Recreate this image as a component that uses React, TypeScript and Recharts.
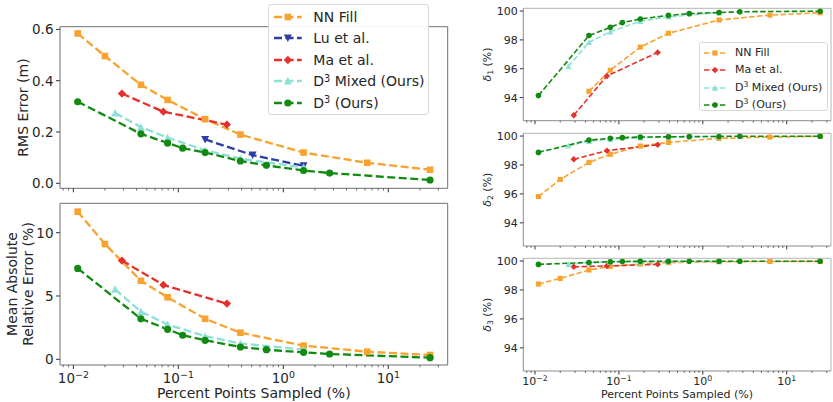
import React from 'react';
import { LineChart, Line, XAxis, YAxis, Legend, ReferenceLine } from 'recharts';

const FONT = '"DejaVu Sans", Verdana, sans-serif';
const TXT = '#262626';

const C_NN = '#f8a230';
const C_LU = '#2d3ea6';
const C_MA = '#e4312c';
const C_MIX = '#8edfd7';
const C_D3 = '#128a12';

// x values: percent points sampled
const X_NN = [0.011, 0.02, 0.044, 0.079, 0.18, 0.39, 1.56, 6.3, 25];
const X_NN_D1 = [0.044, 0.079, 0.18, 0.39, 1.56, 6.3, 25];
const X_LU = [0.18, 0.51, 1.56];
const X_MA = [0.029, 0.072, 0.29];
const X_MIX = [0.025, 0.044, 0.079, 0.18, 0.39, 1.56];
const X_D3 = [0.011, 0.044, 0.079, 0.11, 0.18, 0.39, 0.69, 1.56, 2.76, 25];

// RMS error (m)
const RMS_NN = [0.584, 0.496, 0.384, 0.325, 0.25, 0.19, 0.12, 0.08, 0.053];
const RMS_LU = [0.171, 0.11, 0.068];
const RMS_MA = [0.35, 0.279, 0.229];
const RMS_MIX = [0.274, 0.219, 0.178, 0.129, 0.096, 0.062];
const RMS_D3 = [0.318, 0.193, 0.157, 0.137, 0.12, 0.087, 0.07, 0.05, 0.04, 0.013];

// Mean absolute relative error (%)
const MARE_NN = [11.66, 9.1, 6.2, 4.9, 3.2, 2.1, 1.08, 0.6, 0.34];
const MARE_MA = [7.8, 5.87, 4.4];
const MARE_MIX = [5.53, 3.76, 2.75, 1.83, 1.25, 0.77];
const MARE_D3 = [7.18, 3.2, 2.37, 1.9, 1.5, 0.97, 0.76, 0.55, 0.42, 0.13];

// delta 1 (%)
const D1_NN = [94.44, 95.9, 97.5, 98.46, 99.38, 99.72, 99.88];
const D1_MA = [92.78, 95.5, 97.13];
const D1_MIX = [96.16, 97.84, 98.57, 99.29, 99.6, 99.89];
const D1_D3 = [94.14, 98.3, 98.87, 99.2, 99.45, 99.7, 99.82, 99.9, 99.95, 99.99];

// delta 2 (%)
const D2_NN = [95.82, 97.0, 98.18, 98.74, 99.31, 99.56, 99.84, 99.93, 99.98];
const D2_MA = [98.39, 98.99, 99.4];
const D2_MIX = [99.33, 99.65, 99.77, 99.88, 99.93, 99.97];
const D2_D3 = [98.87, 99.72, 99.84, 99.89, 99.93, 99.95, 99.96, 99.97, 99.99, 99.99];

// delta 3 (%)
const D3_NN = [98.41, 98.8, 99.38, 99.63, 99.8, 99.89, 99.95, 99.97, 99.98];
const D3_MA = [99.6, 99.66, 99.77];
const D3_MIX = [99.78, 99.9, 99.94, 99.96, 99.97, 99.98];
const D3_D3 = [99.77, 99.9, 99.95, 99.97, 99.98, 99.98, 99.99, 99.99, 99.99, 99.99];

// tick values
const LOG_TICKS = [0.008, 0.009, 0.01, 0.02, 0.03, 0.04, 0.05, 0.06, 0.07, 0.08, 0.09, 0.1, 0.2, 0.3, 0.4, 0.5, 0.6, 0.7, 0.8, 0.9, 1, 2, 3, 4, 5, 6, 7, 8, 9, 10, 20, 30];
const MAJOR_TICKS = [0.01, 0.1, 1, 10];
const RMS_TICKS = [0, 0.2, 0.4, 0.6];
const MARE_TICKS = [0, 5, 10];
const DELTA_TICKS = [94, 96, 98, 100];

const zip = (xs: number[], ys: number[]) => xs.map((x, i) => ({ x, y: ys[i] }));

type Sty = {
  fs: number; tMaj: number; tMin: number; lw: number; dash: string; ms: number;
  xLabBase: number; yLabOff: number;
};

const LEFT_STY: Sty = { fs: 13.5, tMaj: 4, tMin: 2.3, lw: 2.3, dash: '8 3.5', ms: 3.6, xLabBase: 18.3, yLabOff: 5.5 };
const RIGHT_STY: Sty = { fs: 11, tMaj: 3.5, tMin: 2, lw: 1.6, dash: '5.5 2.4', ms: 2.8, xLabBase: 14.4, yLabOff: 5 };

function Mark({ cx, cy, shape, color, s }: any) {
  if (cx == null || cy == null || isNaN(cx) || isNaN(cy)) return null;
  if (shape === 'circle') return <circle cx={cx} cy={cy} r={s} fill={color} />;
  if (shape === 'square') {
    const h = s * 0.92;
    return <rect x={cx - h} y={cy - h} width={2 * h} height={2 * h} fill={color} />;
  }
  if (shape === 'diamond') {
    const d = s * 1.15;
    return <polygon points={`${cx},${cy - d} ${cx + d},${cy} ${cx},${cy + d} ${cx - d},${cy}`} fill={color} />;
  }
  if (shape === 'up') {
    const d = s * 1.1;
    return <polygon points={`${cx},${cy - d} ${cx + d},${cy + d * 0.9} ${cx - d},${cy + d * 0.9}`} fill={color} />;
  }
  if (shape === 'down') {
    const d = s * 1.1;
    return <polygon points={`${cx},${cy + d} ${cx + d},${cy - d * 0.9} ${cx - d},${cy - d * 0.9}`} fill={color} />;
  }
  return null;
}

function XTick(p: any) {
  const { x, y, payload, sty, show } = p;
  const v = payload.value;
  const major = MAJOR_TICKS.indexOf(v) >= 0;
  const e = Math.round(Math.log10(v));
  return (
    <g>
      <line x1={x} x2={x} y1={y} y2={y + (major ? sty.tMaj : sty.tMin)} stroke="#333" strokeWidth={major ? 1 : 0.7} />
      {major && show ? (
        <text x={x} y={y + sty.xLabBase} textAnchor="middle" fontSize={sty.fs} fill={TXT} fontFamily={FONT}>
          10
          <tspan dy={-sty.fs * 0.42} fontSize={sty.fs * 0.7}>{e < 0 ? '\u2212' + Math.abs(e) : String(e)}</tspan>
        </text>
      ) : null}
    </g>
  );
}

function YTick(p: any) {
  const { x, y, payload, sty, fmt } = p;
  return (
    <g>
      <line x1={x - sty.tMaj} x2={x} y1={y} y2={y} stroke="#333" strokeWidth={1} />
      <text x={x - sty.yLabOff - sty.tMaj + 3} y={y} dy="0.36em" textAnchor="end" fontSize={sty.fs} fill={TXT} fontFamily={FONT}>
        {fmt(payload.value)}
      </text>
    </g>
  );
}

type Series = { name: string; color: string; shape: string; data: { x: number; y: number }[] };

type LegItem = { name: string; label: React.ReactNode; color: string; shape: string };

const D3sup = (rest: string) => (
  <span>
    D<span style={{ fontSize: '70%', position: 'relative', top: '-0.5em' }}>3</span>{rest}
  </span>
);

const LEFT_LEG: LegItem[] = [
  { name: 'nn', label: 'NN Fill', color: C_NN, shape: 'square' },
  { name: 'lu', label: 'Lu et al.', color: C_LU, shape: 'down' },
  { name: 'ma', label: 'Ma et al.', color: C_MA, shape: 'diamond' },
  { name: 'mix', label: D3sup(' Mixed (Ours)'), color: C_MIX, shape: 'up' },
  { name: 'd3', label: D3sup(' (Ours)'), color: C_D3, shape: 'circle' },
];
const RIGHT_LEG: LegItem[] = [LEFT_LEG[0], LEFT_LEG[2], LEFT_LEG[3], LEFT_LEG[4]];

function LegendBox({ items, w, h, fs, rowY, hx0, hx1, tx, sty }: any) {
  const hw = hx1 - hx0;
  return (
    <div style={{ position: 'relative', width: w, height: h, boxSizing: 'border-box', border: '1px solid #d9d9d9', borderRadius: 3, background: 'rgba(255,255,255,0.9)', fontFamily: FONT, fontSize: fs, color: TXT }}>
      {items.map((it: LegItem, i: number) => (
        <div key={it.name} style={{ position: 'absolute', left: -1, top: rowY[i] - 9, height: 18, width: '100%' }}>
          <svg style={{ position: 'absolute', left: hx0, top: 0 }} width={hw} height={18}>
            <line x1={0} x2={hw} y1={9} y2={9} stroke={it.color} strokeWidth={sty.lw} strokeDasharray={sty.dash} />
            <Mark cx={hw / 2} cy={9} shape={it.shape} color={it.color} s={sty.ms} />
          </svg>
          <span style={{ position: 'absolute', left: tx, top: 0, lineHeight: '18px', whiteSpace: 'nowrap' }}>{it.label}</span>
        </div>
      ))}
    </div>
  );
}

function Panel(props: any) {
  const { left, top, width, height, margin, yWidth, xHeight, xDomain, yDomain, yTicks, yFmt, series, sty, showX, spine, spineLight, legend } = props;
  return (
    <div style={{ position: 'absolute', left, top, width, height }}>
      <LineChart width={width} height={height} margin={margin} style={{ fontFamily: FONT }}>
        <XAxis xAxisId="b" type="number" dataKey="x" scale="log" domain={xDomain} allowDataOverflow ticks={LOG_TICKS} interval={0}
          tickLine={false} tickSize={0} tickMargin={0} height={xHeight} axisLine={{ stroke: spine, strokeWidth: 1 }}
          tick={(p: any) => <XTick {...p} sty={sty} show={showX} />} />
        <YAxis yAxisId="l" type="number" domain={yDomain} allowDataOverflow ticks={yTicks} interval={0}
          tickLine={false} tickSize={0} tickMargin={0} width={yWidth} axisLine={{ stroke: spine, strokeWidth: 1 }}
          tick={(p: any) => <YTick {...p} sty={sty} fmt={yFmt} />} />
        <ReferenceLine xAxisId="b" yAxisId="l" y={yDomain[1]} stroke={spineLight} strokeWidth={1} ifOverflow="visible" />
        <ReferenceLine xAxisId="b" yAxisId="l" x={xDomain[1]} stroke={spineLight} strokeWidth={1} ifOverflow="visible" />
        {series.map((s: Series) => (
          <Line key={s.name} xAxisId="b" yAxisId="l" data={s.data} dataKey="y" type="linear" stroke={s.color}
            strokeWidth={sty.lw} strokeDasharray={sty.dash} activeDot={false} isAnimationActive={false}
            dot={(d: any) => <Mark key={`${s.name}-${d.index}`} cx={d.cx} cy={d.cy} shape={s.shape} color={s.color} s={sty.ms} />} />
        ))}
        {legend}
      </LineChart>
    </div>
  );
}

const LX: [number, number] = [0.00746, 36.8];
const RX: [number, number] = [0.00726, 33.7];
const RY: [number, number] = [92.4, 100.19];

export default function App() {
  const rmsSeries: Series[] = [
    { name: 'nn', color: C_NN, shape: 'square', data: zip(X_NN, RMS_NN) },
    { name: 'lu', color: C_LU, shape: 'down', data: zip(X_LU, RMS_LU) },
    { name: 'ma', color: C_MA, shape: 'diamond', data: zip(X_MA, RMS_MA) },
    { name: 'mix', color: C_MIX, shape: 'up', data: zip(X_MIX, RMS_MIX) },
    { name: 'd3', color: C_D3, shape: 'circle', data: zip(X_D3, RMS_D3) },
  ];
  const mareSeries: Series[] = [
    { name: 'nn', color: C_NN, shape: 'square', data: zip(X_NN, MARE_NN) },
    { name: 'ma', color: C_MA, shape: 'diamond', data: zip(X_MA, MARE_MA) },
    { name: 'mix', color: C_MIX, shape: 'up', data: zip(X_MIX, MARE_MIX) },
    { name: 'd3', color: C_D3, shape: 'circle', data: zip(X_D3, MARE_D3) },
  ];
  const d1Series: Series[] = [
    { name: 'nn', color: C_NN, shape: 'square', data: zip(X_NN_D1, D1_NN) },
    { name: 'ma', color: C_MA, shape: 'diamond', data: zip(X_MA, D1_MA) },
    { name: 'mix', color: C_MIX, shape: 'up', data: zip(X_MIX, D1_MIX) },
    { name: 'd3', color: C_D3, shape: 'circle', data: zip(X_D3, D1_D3) },
  ];
  const d2Series: Series[] = [
    { name: 'nn', color: C_NN, shape: 'square', data: zip(X_NN, D2_NN) },
    { name: 'ma', color: C_MA, shape: 'diamond', data: zip(X_MA, D2_MA) },
    { name: 'mix', color: C_MIX, shape: 'up', data: zip(X_MIX, D2_MIX) },
    { name: 'd3', color: C_D3, shape: 'circle', data: zip(X_D3, D2_D3) },
  ];
  const d3Series: Series[] = [
    { name: 'nn', color: C_NN, shape: 'square', data: zip(X_NN, D3_NN) },
    { name: 'ma', color: C_MA, shape: 'diamond', data: zip(X_MA, D3_MA) },
    { name: 'mix', color: C_MIX, shape: 'up', data: zip(X_MIX, D3_MIX) },
    { name: 'd3', color: C_D3, shape: 'circle', data: zip(X_D3, D3_D3) },
  ];

  const leftLegend = (
    <Legend layout="vertical" align="center" verticalAlign="middle"
      wrapperStyle={{ left: 268.3, top: 4.3, width: 161, height: 110.7 }}
      content={() => (
        <LegendBox items={LEFT_LEG} w={161} h={110.7} fs={14} rowY={[11.4, 33, 54.6, 76.2, 97.8]} hx0={6} hx1={33.7} tx={45} sty={LEFT_STY} />
      )} />
  );
  const rightLegend = (
    <Legend layout="vertical" align="center" verticalAlign="middle"
      wrapperStyle={{ left: 249.3, top: 42.3, width: 128.4, height: 68.7 }}
      content={() => (
        <LegendBox items={RIGHT_LEG} w={128.4} h={68.7} fs={11} rowY={[9.4, 26.9, 44.4, 61.9]} hx0={4.7} hx1={26.7} tx={35.7} sty={RIGHT_STY} />
      )} />
  );

  const spineL = '#707070';
  const spineR = '#8a8a8a';
  const spineRLight = '#b5b5b5';

  const deltaLabel = (x: number, y: number, sub: string) => (
    <text transform={`rotate(-90 ${x} ${y})`} x={x} y={y} dy="0.35em" textAnchor="middle" fontSize={11} fill={TXT} fontFamily={FONT}>
      <tspan fontStyle="italic">δ</tspan>
      <tspan dy={2.5} fontSize={7.7}>{sub}</tspan>
      <tspan dy={-2.5}> (%)</tspan>
    </text>
  );

  return (
    <div style={{ position: 'absolute', left: 0, top: 0, width: 833, height: 402, background: '#fff', overflow: 'hidden' }}>
      <Panel left={0} top={0} width={450} height={200} margin={{ top: 26.7, right: 2.3, bottom: 0, left: 0 }}
        yWidth={60} xHeight={11.7} xDomain={LX} yDomain={[-0.0194, 0.6104]} yTicks={RMS_TICKS}
        yFmt={(v: number) => v.toFixed(1)} series={rmsSeries} sty={LEFT_STY} showX={false}
        spine={spineL} spineLight={spineL} legend={leftLegend} />
      <Panel left={0} top={190} width={450} height={212} margin={{ top: 13.3, right: 2.3, bottom: 0, left: 0 }}
        yWidth={60} xHeight={37} xDomain={LX} yDomain={[-0.45, 12.32]} yTicks={MARE_TICKS}
        yFmt={(v: number) => String(v)} series={mareSeries} sty={LEFT_STY} showX={true}
        spine={spineL} spineLight={spineL} />
      <Panel left={450} top={0} width={383} height={125} margin={{ top: 8.3, right: 2, bottom: 0, left: 0 }}
        yWidth={73.3} xHeight={4.3} xDomain={RX} yDomain={RY} yTicks={DELTA_TICKS}
        yFmt={(v: number) => String(v)} series={d1Series} sty={RIGHT_STY} showX={false}
        spine={spineR} spineLight={spineRLight} legend={rightLegend} />
      <Panel left={450} top={125} width={383} height={125} margin={{ top: 8.3, right: 2, bottom: 0, left: 0 }}
        yWidth={73.3} xHeight={4} xDomain={RX} yDomain={RY} yTicks={DELTA_TICKS}
        yFmt={(v: number) => String(v)} series={d2Series} sty={RIGHT_STY} showX={false}
        spine={spineR} spineLight={spineRLight} />
      <Panel left={450} top={250} width={383} height={152} margin={{ top: 8.3, right: 2, bottom: 0, left: 0 }}
        yWidth={73.3} xHeight={31} xDomain={RX} yDomain={RY} yTicks={DELTA_TICKS}
        yFmt={(v: number) => String(v)} series={d3Series} sty={RIGHT_STY} showX={true}
        spine={spineR} spineLight={spineRLight} />

      <svg style={{ position: 'absolute', left: 0, top: 0, pointerEvents: 'none' }} width={833} height={402}>
        <text transform="rotate(-90 23 107.5)" x={23} y={107.5} dy="0.35em" textAnchor="middle" fontSize={14} fill={TXT} fontFamily={FONT}>RMS Error (m)</text>
        <text transform="rotate(-90 12.5 284)" x={12.5} y={284} dy="0.35em" textAnchor="middle" fontSize={14} fill={TXT} fontFamily={FONT}>Mean Absolute</text>
        <text transform="rotate(-90 28 284)" x={28} y={284} dy="0.35em" textAnchor="middle" fontSize={14} fill={TXT} fontFamily={FONT}>Relative Error (%)</text>
        <text x={253.8} y={393} dy="0.35em" textAnchor="middle" fontSize={14} fill={TXT} fontFamily={FONT}>Percent Points Sampled (%)</text>
        <text x={677} y={394} dy="0.35em" textAnchor="middle" fontSize={11} fill={TXT} fontFamily={FONT}>Percent Points Sampled (%)</text>
        {deltaLabel(487, 64.5, '1')}
        {deltaLabel(487, 189.7, '2')}
        {deltaLabel(487, 314.7, '3')}
      </svg>
    </div>
  );
}
